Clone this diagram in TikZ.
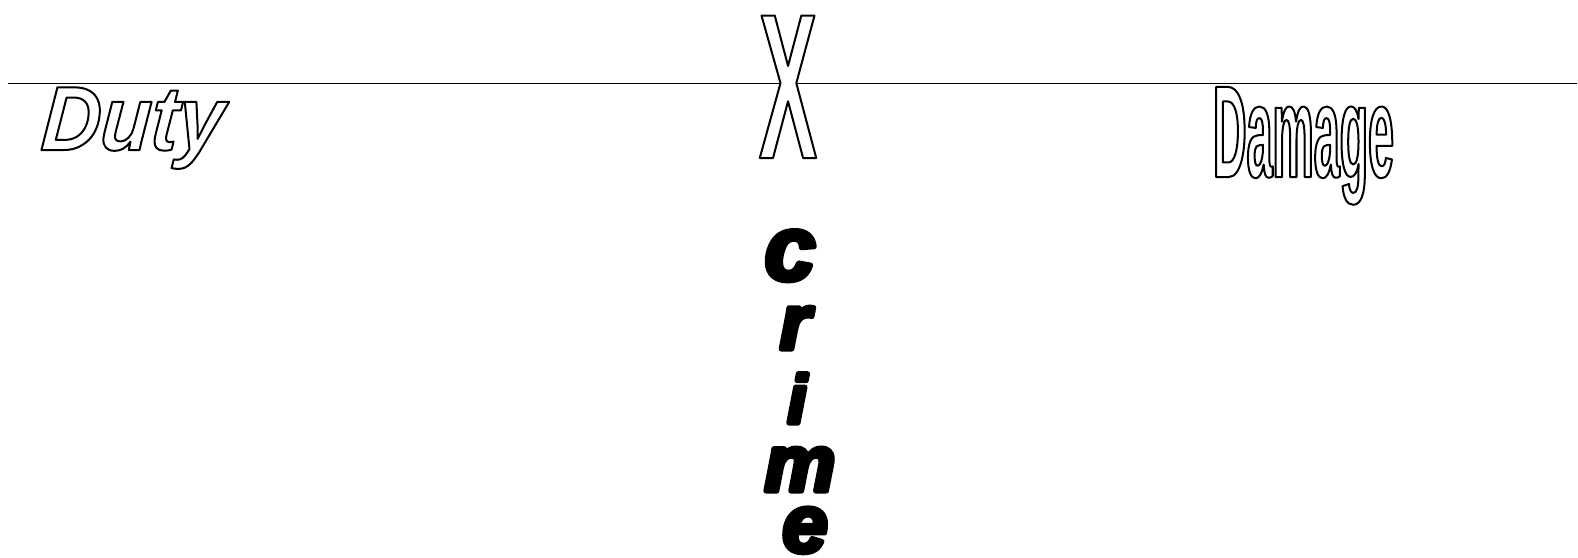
\documentclass[tikz,border=0pt]{standalone}
\usepackage{fontspec}
\newfontfamily\dutyfont[FakeStretch=0.9,FakeSlant=0.08]{Liberation Sans}
\newfontfamily\xfont[FakeStretch=0.42]{Liberation Sans}
\newfontfamily\damfont[FakeStretch=0.355]{Liberation Sans}
\newfontfamily\crfont{Liberation Sans}
\newcommand\hollow[1]{{\color{white}\special{pdf:literal direct 2 Tr 2 w 1 j 0 0 0 RG}#1\special{pdf:literal direct 0 Tr}}}
\newcommand\heavy[1]{{\special{pdf:literal direct 2 Tr 5 w 1 j}#1\special{pdf:literal direct 0 Tr}}}
\begin{document}
\begin{tikzpicture}[x=1pt,y=-1pt]
\tikzset{lbl/.style={inner sep=0pt, outer sep=0pt, anchor=base west},
  crl/.style={inner sep=0pt, outer sep=0pt, anchor=base}}
\useasboundingbox (0,0) rectangle (1578,557);
\coordinate (L) at (8,83.5);
\coordinate (R) at (1577,83.5);
\draw[line width=1.6pt] (L) -- (R);
\node[lbl] (duty) at (40,150) {\dutyfont\bfseries\itshape\fontsize{91}{91}\selectfont\hollow{Duty}};
\node[lbl] (x) at (759,158) {\xfont\bfseries\fontsize{207}{207}\selectfont\hollow{X}};
\node[lbl] (dam) at (1213,177) {\damfont\bfseries\fontsize{131}{131}\selectfont\hollow{Damage}};
\node[crl] (c1) at (790,280) {\crfont\bfseries\itshape\fontsize{92}{92}\selectfont\heavy{c}};
\node[crl] (c2) at (795,349) {\crfont\bfseries\itshape\fontsize{78}{78}\selectfont\heavy{r}};
\node[crl] (c3) at (797,423) {\crfont\bfseries\itshape\fontsize{68}{68}\selectfont\heavy{i}};
\node[crl] (c4) at (800,491) {\crfont\bfseries\itshape\fontsize{80}{80}\selectfont\heavy{m}};
\node[crl] (c5) at (805,552) {\crfont\bfseries\itshape\fontsize{82}{82}\selectfont\heavy{e}};
\end{tikzpicture}
\end{document}
